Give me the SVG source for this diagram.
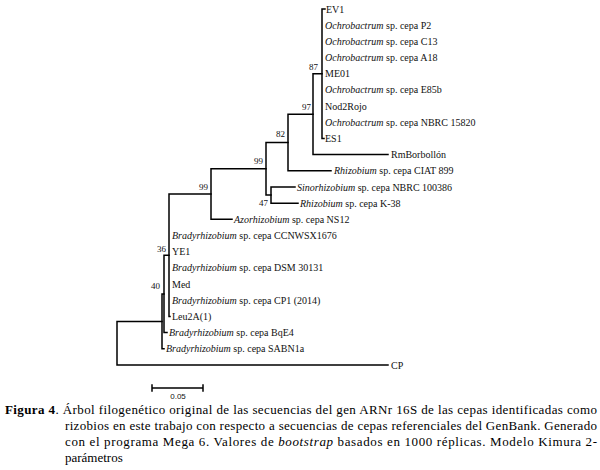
<svg xmlns="http://www.w3.org/2000/svg" width="600" height="470" viewBox="0 0 600 470">
<style>
.br{fill:none;stroke:#000;stroke-width:1.5;stroke-linecap:square}
.lf{font-family:"Liberation Serif","Times New Roman",serif;font-size:10px;fill:#111}
.bs{font-family:"Liberation Serif","Times New Roman",serif;font-size:9px;fill:#111;text-anchor:end}
.it{font-style:italic}
.cap{font-family:"Liberation Serif","Times New Roman",serif;font-size:13px;fill:#000}
.sc{font-family:"Liberation Sans",Arial,sans-serif;font-size:8px;fill:#111;text-anchor:middle}
</style>
<rect width="600" height="470" fill="#fff"/>
<g id="connectors">
<path class="br" d="M325,9H322V138.4H324"/>
<path class="br" d="M322,73.7H313V154.6H388"/>
<path class="br" d="M313,114.2H288V170.8H331"/>
<path class="br" d="M288,142.5H266V195.1H271"/>
<path class="br" d="M295,187H271V203.2H298"/>
<path class="br" d="M266,168.8H211V219.3H232"/>
<path class="br" d="M211,194.1H169V316.4H170"/>
<path class="br" d="M169,255.2H164V332.6H167"/>
<path class="br" d="M164,293.9H162V348.8H164"/>
<path class="br" d="M162,321.4H117V365H388"/>
<path class="br" d="M152,388H203M152,385V391M203,385V391" stroke-width="1"/>
</g>
<g id="n-EV1"><text class="lf" x="326" y="12.5">EV1</text></g>
<g id="n-P2"><text class="lf" x="325" y="28.7"><tspan class="it">Ochrobactrum</tspan> sp. cepa P2</text></g>
<g id="n-C13"><text class="lf" x="325" y="44.9"><tspan class="it">Ochrobactrum</tspan> sp. cepa C13</text></g>
<g id="n-A18"><text class="lf" x="325" y="61"><tspan class="it">Ochrobactrum</tspan> sp. cepa A18</text></g>
<g id="n-ME01"><text class="lf" x="325" y="77.2">ME01</text></g>
<g id="n-E85b"><text class="lf" x="325" y="93.4"><tspan class="it">Ochrobactrum</tspan> sp. cepa E85b</text></g>
<g id="n-Nod2Rojo"><text class="lf" x="325" y="109.6">Nod2Rojo</text></g>
<g id="n-NBRC15820"><text class="lf" x="325" y="125.8"><tspan class="it">Ochrobactrum</tspan> sp. cepa NBRC 15820</text></g>
<g id="n-ES1"><text class="lf" x="325" y="141.9">ES1</text></g>
<g id="n-RmBorbollon"><text class="lf" x="391" y="158.1">RmBorbollón</text></g>
<g id="n-CIAT899"><text class="lf" x="334" y="174.3"><tspan class="it">Rhizobium</tspan> sp. cepa CIAT 899</text></g>
<g id="n-NBRC100386"><text class="lf" x="297" y="190.5"><tspan class="it">Sinorhizobium</tspan> sp. cepa NBRC 100386</text></g>
<g id="n-K38"><text class="lf" x="300" y="206.7"><tspan class="it">Rhizobium</tspan> sp. cepa K-38</text></g>
<g id="n-NS12"><text class="lf" x="234" y="222.8"><tspan class="it">Azorhizobium</tspan> sp. cepa NS12</text></g>
<g id="n-CCNWSX1676"><text class="lf" x="172" y="239"><tspan class="it">Bradyrhizobium</tspan> sp. cepa CCNWSX1676</text></g>
<g id="n-YE1"><text class="lf" x="172" y="255.2">YE1</text></g>
<g id="n-DSM30131"><text class="lf" x="172" y="271.4"><tspan class="it">Bradyrhizobium</tspan> sp. cepa DSM 30131</text></g>
<g id="n-Med"><text class="lf" x="172" y="287.6">Med</text></g>
<g id="n-CP1"><text class="lf" x="172" y="303.7"><tspan class="it">Bradyrhizobium</tspan> sp. cepa CP1 (2014)</text></g>
<g id="n-Leu2A"><text class="lf" x="172" y="319.9">Leu2A(1)</text></g>
<g id="n-BqE4"><text class="lf" x="169" y="336.1"><tspan class="it">Bradyrhizobium</tspan> sp. cepa BqE4</text></g>
<g id="n-SABN1a"><text class="lf" x="166" y="352.3"><tspan class="it">Bradyrhizobium</tspan> sp. cepa SABN1a</text></g>
<g id="n-CP"><text class="lf" x="391" y="368.5">CP</text></g>
<g id="b87"><text class="bs" x="318" y="70">87</text></g>
<g id="b97"><text class="bs" x="311" y="110">97</text></g>
<g id="b82"><text class="bs" x="285" y="137">82</text></g>
<g id="b99a"><text class="bs" x="263" y="164">99</text></g>
<g id="b99b"><text class="bs" x="208" y="190">99</text></g>
<g id="b47"><text class="bs" x="268" y="206">47</text></g>
<g id="b36"><text class="bs" x="166" y="252">36</text></g>
<g id="b40"><text class="bs" x="160" y="289">40</text></g>
<g id="scale"><text class="sc" x="178" y="399">0.05</text></g>
<g id="caption">
<text class="cap" x="5" y="414" textLength="592" lengthAdjust="spacing"><tspan font-weight="bold">Figura 4</tspan>. Árbol filogenético original de las secuencias del gen ARNr 16S de las cepas identificadas como</text>
<text class="cap" x="65" y="430" textLength="532" lengthAdjust="spacing">rizobios en este trabajo con respecto a secuencias de cepas referenciales del GenBank. Generado</text>
<text class="cap" x="65" y="446" textLength="532" lengthAdjust="spacing">con el programa Mega 6. Valores de <tspan font-style="italic">bootstrap</tspan> basados en 1000 réplicas. Modelo Kimura 2-</text>
<text class="cap" x="65" y="462">parámetros</text>
</g>
</svg>
